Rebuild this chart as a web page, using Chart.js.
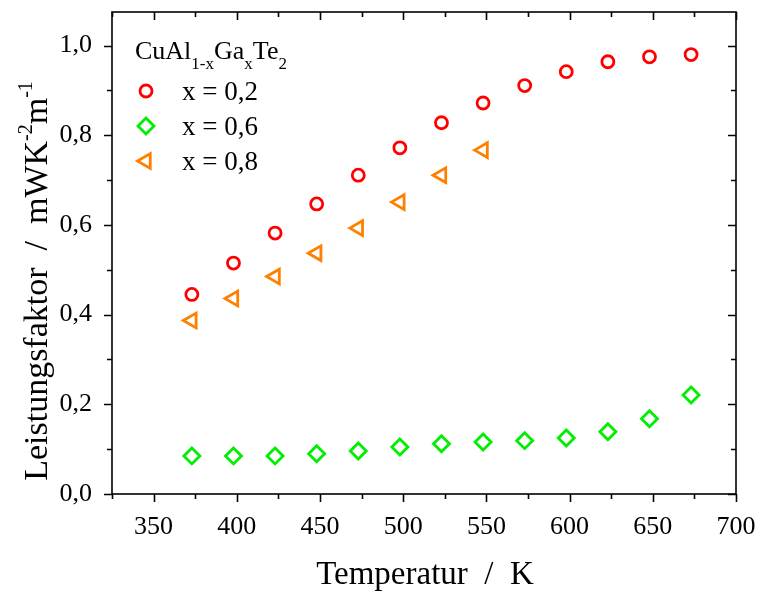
<!DOCTYPE html>
<html>
<head>
<meta charset="utf-8">
<script src="https://cdn.jsdelivr.net/npm/chart.js@4/dist/chart.umd.min.js"></script>
<style>
  html, body { margin: 0; padding: 0; background: #fff; }
  #wrap { width: 760px; height: 592px; }
</style>
</head>
<body>
<div id="wrap"><canvas id="myChart" width="760" height="592"></canvas></div>
<script>
var FONT = "'Liberation Serif', 'DejaVu Serif', serif";

// temperatures in K
var temps = [373, 398, 423, 448, 473, 498, 523, 548, 573, 598, 623, 648, 673];
var pfX02 = [0.445, 0.515, 0.582, 0.647, 0.711, 0.772, 0.828, 0.872, 0.911, 0.942, 0.964, 0.975, 0.980];
var pfX06 = [0.085, 0.085, 0.085, 0.090, 0.096, 0.105, 0.112, 0.116, 0.119, 0.125, 0.139, 0.168, 0.221];
var pfX08 = [0.387, 0.436, 0.485, 0.537, 0.593, 0.651, 0.711, 0.767];
var seriesNames = ["x = 0,2", "x = 0,6", "x = 0,8"];
var xTicks = [350, 400, 450, 500, 550, 600, 650, 700];
var yTicks = [0, 0.2, 0.4, 0.6, 0.8, 1.0];

function points(xs, ys) {
    var out = [];
    for (var i = 0; i < ys.length; i++) out.push({ x: xs[i], y: ys[i] });
    return out;
}

var styles = [
    { color: "#ff0000", pointStyle: "circle", radius: 6, rotation: 0 },
    { color: "#00ee00", pointStyle: "rectRot", radius: 8, rotation: 0 },
    { color: "#ff8000", pointStyle: "triangle", radius: 8.5, rotation: -90 }
];
var values = [pfX02, pfX06, pfX08];

var datasets = values.map(function (v, i) {
    var s = styles[i];
    return {
        label: seriesNames[i],
        data: points(temps, v),
        pointStyle: s.pointStyle,
        pointRotation: s.rotation,
        pointRadius: s.radius,
        pointHoverRadius: s.radius,
        pointBorderWidth: 2.8,
        borderColor: s.color,
        backgroundColor: "rgba(0,0,0,0)",
        showLine: false
    };
});

// draws text runs with sub/superscripts, returns total width
function runs(ctx, parts, x, y, measureOnly) {
    var w = 0;
    parts.forEach(function (p) {
        ctx.font = p.size + "px " + FONT;
        var pw = ctx.measureText(p.t).width;
        if (!measureOnly) ctx.fillText(p.t, x + w, y + (p.dy || 0));
        w += pw;
    });
    return w;
}

var decor = {
    id: "decor",
    afterDraw: function (chart) {
        var ctx = chart.ctx;
        var a = chart.chartArea;
        var xs = chart.scales.x, ys = chart.scales.y;
        ctx.save();
        ctx.strokeStyle = "#000";
        ctx.lineWidth = 1.6;
        ctx.strokeRect(a.left, a.top, a.right - a.left, a.bottom - a.top);

        ctx.beginPath();
        for (var v = 325; v <= 700; v += 25) {
            var px = Math.round(xs.getPixelForValue(v)) + 0.5;
            var len = v % 50 === 0 ? 8 : 5;
            ctx.moveTo(px, a.bottom); ctx.lineTo(px, a.bottom + len);
            ctx.moveTo(px, a.top); ctx.lineTo(px, a.top + len);
        }
        for (var k = 0; k <= 10; k++) {
            var py = Math.round(ys.getPixelForValue(k / 10)) + 0.5;
            var l2 = k % 2 === 0 ? 8 : 5;
            ctx.moveTo(a.left, py); ctx.lineTo(a.left - l2, py);
            ctx.moveTo(a.right, py); ctx.lineTo(a.right - l2, py);
        }
        ctx.stroke();

        ctx.fillStyle = "#000";
        ctx.textBaseline = "alphabetic";

        // x axis title
        var xt = [{ t: "Temperatur  /  K", size: 33 }];
        var xw = runs(ctx, xt, 0, 0, true);
        runs(ctx, xt, 425 - xw / 2, 584);

        // y axis title with superscripts
        var yt = [
            { t: "Leistungsfaktor  /  mWK", size: 34 },
            { t: "-2", size: 20, dy: -15 },
            { t: "m", size: 34 },
            { t: "-1", size: 20, dy: -15 }
        ];
        var yw = runs(ctx, yt, 0, 0, true);
        ctx.save();
        ctx.translate(47, 281);
        ctx.rotate(-Math.PI / 2);
        runs(ctx, yt, -yw / 2, 0);
        ctx.restore();

        // legend block
        runs(ctx, [
            { t: "CuAl", size: 26 },
            { t: "1-x", size: 17, dy: 10 },
            { t: "Ga", size: 26 },
            { t: "x", size: 17, dy: 10 },
            { t: "Te", size: 26 },
            { t: "2", size: 17, dy: 10 }
        ], 135, 59);
        var rowY = [91, 126, 161];
        styles.forEach(function (s, i) {
            ctx.strokeStyle = s.color;
            ctx.fillStyle = "rgba(0,0,0,0)";
            ctx.lineWidth = 2.8;
            Chart.helpers.drawPoint(ctx, {
                pointStyle: s.pointStyle,
                rotation: s.rotation,
                radius: s.radius,
                borderWidth: 2.8
            }, 146, rowY[i]);
            ctx.fillStyle = "#000";
            runs(ctx, [{ t: seriesNames[i], size: 27 }], 182, rowY[i] + 9);
        });
        ctx.restore();
    }
};

function setTicks(list) {
    return function (scale) {
        scale.ticks = list.map(function (v) { return { value: v }; });
    };
}

// fixed axis boxes, no extra room for overhanging tick labels
function fixBox(w, h) {
    return function (s) {
        if (w) s.width = w;
        if (h) s.height = h;
        s.paddingLeft = 0;
        s.paddingRight = 0;
        s.paddingTop = 0;
        s.paddingBottom = 0;
    };
}

var ctx = document.getElementById("myChart");
var myChart = new Chart(ctx, {
    type: "scatter",
    data: { datasets: datasets },
    options: {
        responsive: false,
        animation: false,
        devicePixelRatio: 1,
        layout: { padding: { left: 0, right: 24, top: 12, bottom: 0 } },
        plugins: { legend: { display: false }, tooltip: { enabled: false } },
        scales: {
            x: {
                type: "linear",
                min: 325,
                max: 700,
                afterBuildTicks: setTicks(xTicks),
                afterFit: fixBox(0, 98),
                grid: { display: false },
                border: { display: false },
                ticks: {
                    padding: 10,
                    color: "#000",
                    font: { family: FONT, size: 26 }
                }
            },
            y: {
                type: "linear",
                min: 0,
                max: 1.075,
                afterBuildTicks: setTicks(yTicks),
                afterFit: fixBox(112, 0),
                grid: { display: false },
                border: { display: false },
                ticks: {
                    padding: 12,
                    color: "#000",
                    font: { family: FONT, size: 26 },
                    callback: function (v) { return v.toFixed(1).replace(".", ","); }
                }
            }
        }
    },
    plugins: [decor]
});
</script>
</body>
</html>
